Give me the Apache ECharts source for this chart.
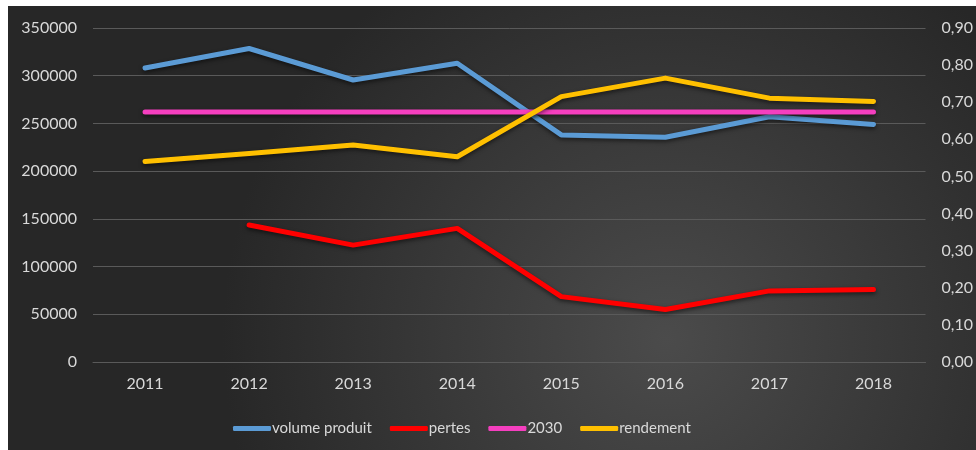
<!DOCTYPE html>
<html>
<head>
<meta charset="utf-8">
<script src="https://cdn.jsdelivr.net/npm/echarts@6/dist/echarts.min.js"></script>
<style>
html,body{margin:0;padding:0;background:#ffffff;}
#c{position:absolute;left:8px;top:6px;width:968px;height:444px;}
</style>
</head>
<body>
<div id="c"></div>
<script>
const categories = ['2011','2012','2013','2014','2015','2016','2017','2018'];
const volumeProduit = [308000, 328500, 295500, 313000, 238000, 235500, 257000, 249000];
const pertes = [null, 143500, 122500, 140000, 68500, 55000, 74500, 76000];
const objectif2030 = [262000, 262000, 262000, 262000, 262000, 262000, 262000, 262000];
const rendement = [0.540, 0.562, 0.585, 0.553, 0.715, 0.765, 0.711, 0.702];
const leftTicks = {min: 0, max: 350000, interval: 50000};
const rightTicks = {min: 0, max: 0.9, interval: 0.1};

const chart = echarts.init(document.getElementById('c'));
const labelColor = '#d9d9d9';
const font = 'Lato';
const fs = 16;
const shadow = {shadowColor: 'rgba(0,0,0,0.55)', shadowBlur: 4, shadowOffsetY: 2};
function lineSeries(name, data, color, yIdx) {
  return {
    name: name, type: 'line', data: data, yAxisIndex: yIdx,
    showSymbol: false, symbol: 'none', connectNulls: false,
    lineStyle: Object.assign({color: color, width: 5, cap: 'round', join: 'round'}, shadow),
    itemStyle: {color: color},
    animation: false
  };
}
chart.setOption({
  backgroundColor: {
    type: 'radial', x: 0.68, y: 0.75, r: 1.0,
    colorStops: [{offset: 0, color: '#4b4b4b'}, {offset: 1, color: '#272727'}]
  },
  animation: false,
  grid: {left: 85, right: 49, top: 22, bottom: 88},
  legend: {
    top: 410, left: 220,
    itemWidth: 38, itemHeight: 5, itemGap: 18,
    icon: 'roundRect',
    textStyle: {color: labelColor, fontSize: 15, fontFamily: font, padding: [0, 0, 0, -4]},
    data: ['volume produit', 'pertes', '2030', 'rendement']
  },
  xAxis: {
    type: 'category', data: categories, boundaryGap: true,
    axisLine: {lineStyle: {color: '#5a5a5a', width: 1}},
    axisTick: {show: false},
    axisLabel: {color: labelColor, fontSize: fs, fontFamily: font, margin: 14}
  },
  yAxis: [
    {
      type: 'value', min: leftTicks.min, max: leftTicks.max, interval: leftTicks.interval,
      axisLine: {show: false}, axisTick: {show: false},
      splitLine: {lineStyle: {color: '#5a5a5a', width: 1}},
      axisLabel: {color: labelColor, fontSize: fs, fontFamily: font, margin: 16,
        formatter: v => String(v)}
    },
    {
      type: 'value', min: rightTicks.min, max: rightTicks.max, interval: rightTicks.interval,
      axisLine: {show: false}, axisTick: {show: false},
      splitLine: {show: false},
      axisLabel: {color: labelColor, fontSize: fs, fontFamily: font, margin: 16,
        formatter: v => v.toFixed(2).replace('.', ',')}
    }
  ],
  series: [
    lineSeries('volume produit', volumeProduit, '#5b9bd5', 0),
    lineSeries('pertes', pertes, '#ff0000', 0),
    lineSeries('2030', objectif2030, '#f53fbf', 0),
    lineSeries('rendement', rendement, '#ffc000', 1)
  ]
});
</script>
</body>
</html>
